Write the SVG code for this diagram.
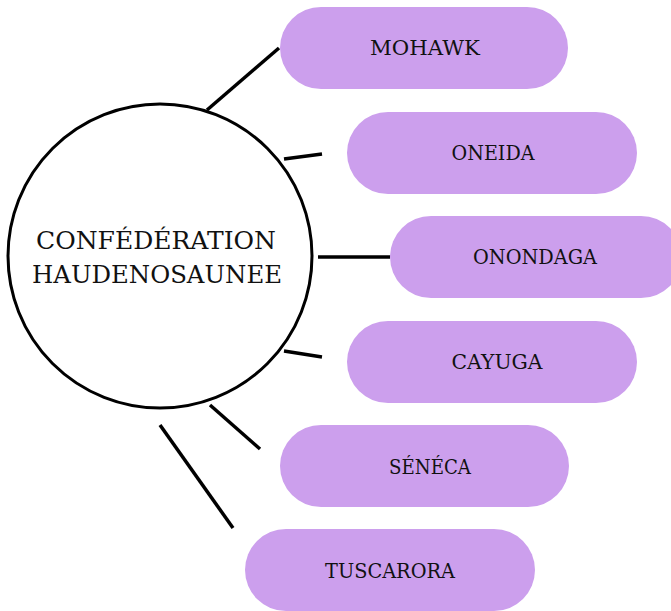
<svg xmlns="http://www.w3.org/2000/svg" width="671" height="611" viewBox="0 0 671 611">
<style>
.pill{fill:#cc9fed;}
.lbl{font-family:"DejaVu Serif","Liberation Serif",serif;font-size:20px;fill:#111;text-anchor:middle;}
.ctr{font-family:"DejaVu Serif","Liberation Serif",serif;font-size:25px;fill:#111;text-anchor:middle;}
.conn line{stroke:#000;stroke-width:3.5;stroke-linecap:butt;}
</style>
<rect width="671" height="611" fill="#fff"/>
<g id="connectors" class="conn">
<line x1="207" y1="110" x2="279" y2="48"/>
<line x1="284" y1="159" x2="322" y2="154"/>
<line x1="318" y1="257" x2="390" y2="257"/>
<line x1="284" y1="351" x2="322" y2="357"/>
<line x1="210" y1="405" x2="260" y2="449"/>
<line x1="160" y1="425" x2="233" y2="528"/>
</g>
<g id="center">
<circle cx="160" cy="256" r="152" fill="#fff" stroke="#000" stroke-width="3"/>
<text class="ctr" x="156" y="249" textLength="240" lengthAdjust="spacingAndGlyphs">CONFÉDÉRATION</text>
<text class="ctr" x="157" y="283" textLength="250" lengthAdjust="spacingAndGlyphs">HAUDENOSAUNEE</text>
</g>
<g id="mohawk">
<rect class="pill" x="280" y="7" width="288" height="82" rx="41"/>
<text class="lbl" x="425" y="55" textLength="110" lengthAdjust="spacingAndGlyphs">MOHAWK</text>
</g>
<g id="oneida">
<rect class="pill" x="347" y="112" width="290" height="82" rx="41"/>
<text class="lbl" x="493" y="160" textLength="83" lengthAdjust="spacingAndGlyphs">ONEIDA</text>
</g>
<g id="onondaga">
<rect class="pill" x="390" y="216" width="292" height="82" rx="41"/>
<text class="lbl" x="535" y="264" textLength="124" lengthAdjust="spacingAndGlyphs">ONONDAGA</text>
</g>
<g id="cayuga">
<rect class="pill" x="347" y="321" width="290" height="82" rx="41"/>
<text class="lbl" x="497" y="369" textLength="91" lengthAdjust="spacingAndGlyphs">CAYUGA</text>
</g>
<g id="seneca">
<rect class="pill" x="280" y="425" width="289" height="82" rx="41"/>
<text class="lbl" x="430" y="474" textLength="82" lengthAdjust="spacingAndGlyphs">SÉNÉCA</text>
</g>
<g id="tuscarora">
<rect class="pill" x="245" y="529" width="290" height="82" rx="41"/>
<text class="lbl" x="390" y="578" textLength="130" lengthAdjust="spacingAndGlyphs">TUSCARORA</text>
</g>
</svg>
